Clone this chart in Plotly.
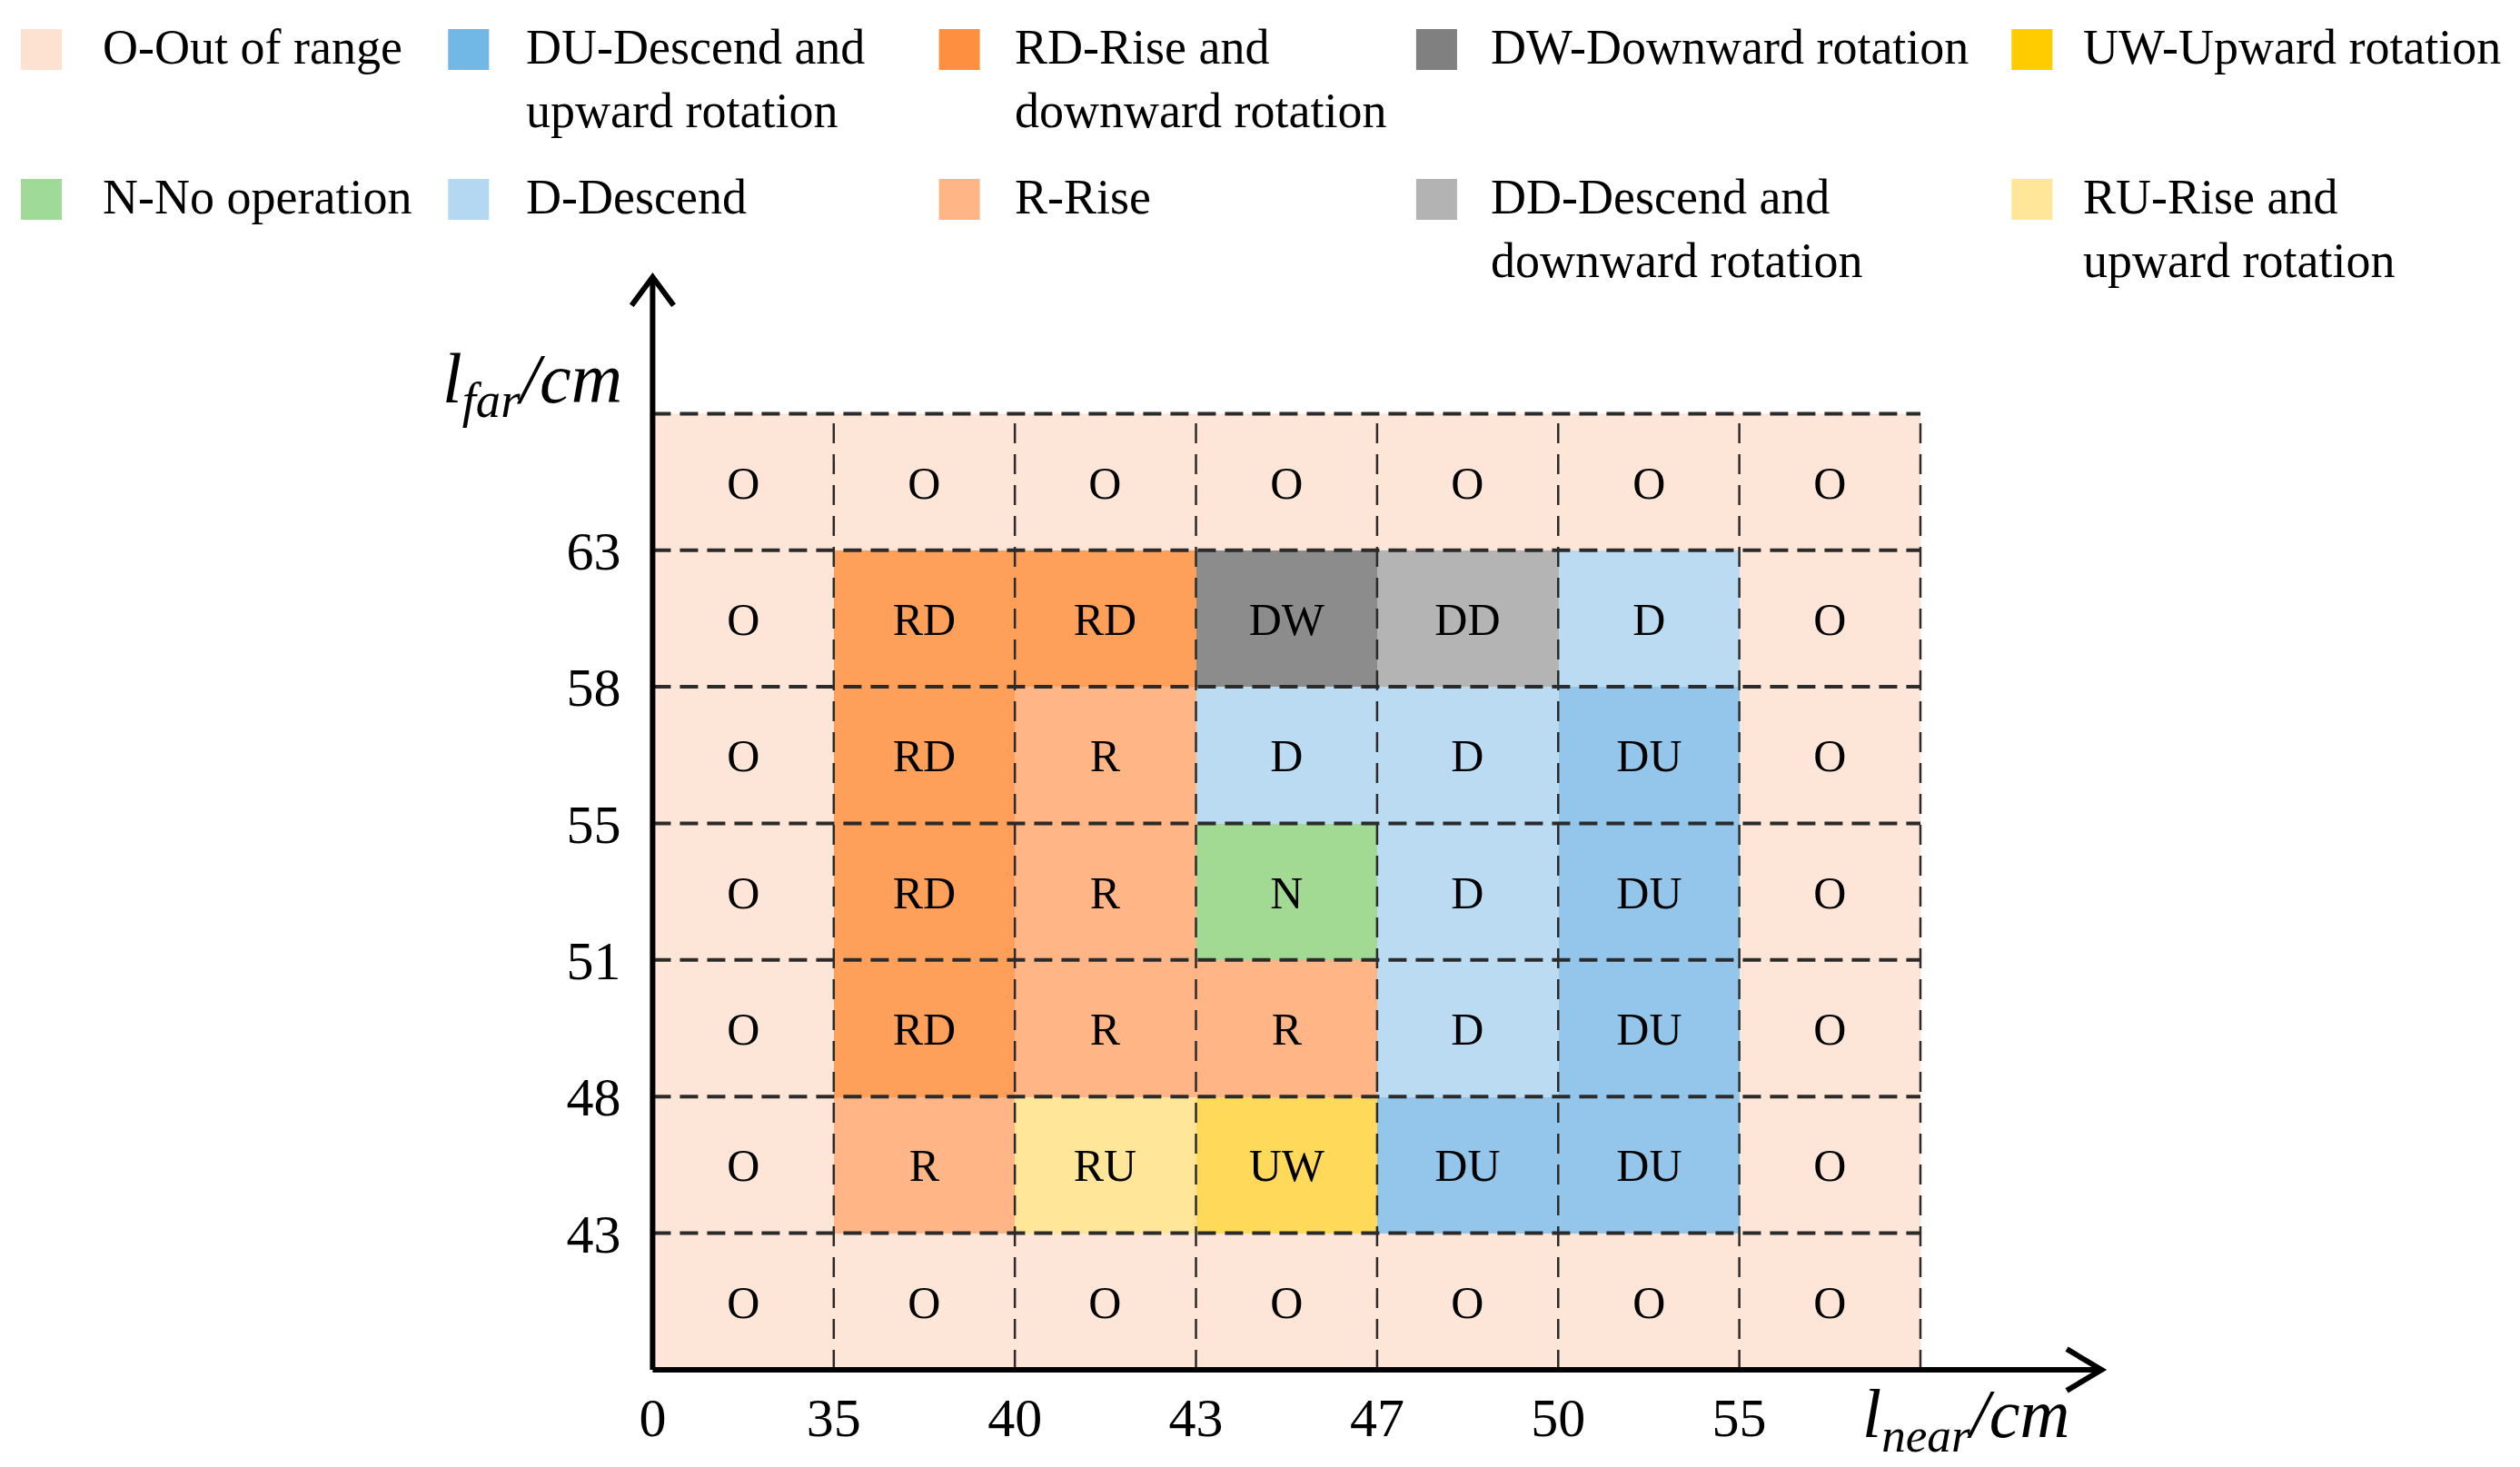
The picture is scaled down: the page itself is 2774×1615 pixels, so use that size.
import plotly.graph_objects as go

# ---------------- data ----------------
categories = ["O", "DU", "RD", "DW", "UW", "N", "D", "R", "DD", "RU"]
legend_labels = [
    "O-Out of range",
    "DU-Descend and<br>upward rotation",
    "RD-Rise and<br>downward rotation",
    "DW-Downward rotation",
    "UW-Upward rotation",
    "N-No operation",
    "D-Descend",
    "R-Rise",
    "DD-Descend and<br>downward rotation",
    "RU-Rise and<br>upward rotation",
]
legend_colors = ["#FDE2D2", "#72B8E6", "#FF8F40", "#808080", "#FFCC00",
                 "#A0DA98", "#B4D8F1", "#FFB585", "#B3B3B3", "#FFE699"]
cell_colors = ["#FDE5D8", "#93C6EA", "#FFA05A", "#8C8C8C", "#FFD95A",
               "#A2D993", "#BADBF2", "#FFB585", "#B4B4B4", "#FFE699"]

x_ticks = ["0", "35", "40", "43", "47", "50", "55"]
y_ticks = ["43", "48", "51", "55", "58", "63"]

# grid rows, listed from top to bottom
grid_top_to_bottom = [
    ["O", "O", "O", "O", "O", "O", "O"],
    ["O", "RD", "RD", "DW", "DD", "D", "O"],
    ["O", "RD", "R", "D", "D", "DU", "O"],
    ["O", "RD", "R", "N", "D", "DU", "O"],
    ["O", "RD", "R", "R", "D", "DU", "O"],
    ["O", "R", "RU", "UW", "DU", "DU", "O"],
    ["O", "O", "O", "O", "O", "O", "O"],
]

# ---------------- figure ----------------
W, H = 2774, 1615
FONT = "Liberation Serif"


def px(t):
    """horizontal pixel position -> paper fraction"""
    return max((t - 20.0) / 0.994, 0) / W


def py(t):
    """vertical pixel position (from top) -> paper fraction"""
    return 1 - (t - 4) / H


ncol = len(grid_top_to_bottom[0])
nrow = len(grid_top_to_bottom)
grid = grid_top_to_bottom[::-1]
z = [[categories.index(c) for c in row] for row in grid]
n = len(categories)
colorscale = []
for i, c in enumerate(cell_colors):
    colorscale.append([i / n, c])
    colorscale.append([(i + 1) / n, c])

XMAX, YMAX = 8, 8

fig = go.Figure()
fig.add_trace(go.Heatmap(
    x=[i + 0.5 for i in range(ncol)],
    y=[j + 0.5 for j in range(nrow)],
    z=z, text=grid, texttemplate="%{text}",
    textfont=dict(family=FONT, size=50, color="black"),
    colorscale=colorscale, zmin=-0.5, zmax=n - 0.5,
    showscale=False, hoverinfo="skip",
))

shapes = []
# dashed grid lines
for j in range(1, nrow + 1):
    shapes.append(dict(type="line", x0=0, x1=ncol, y0=j, y1=j, xref="x", yref="y",
                       line=dict(color="#2b2b2b", width=4, dash="20px,10px")))
for i in range(1, ncol + 1):
    shapes.append(dict(type="line", x0=i, x1=i, y0=0, y1=nrow, xref="x", yref="y",
                       line=dict(color="#2b2b2b", width=2.5, dash="22px,12px")))
# axes with open arrow heads (domain refs -> not clipped)
axis_line = dict(color="black", width=6)
shapes.append(dict(type="line", x0=0, x1=1, y0=0, y1=0,
                   xref="x domain", yref="y domain", line=axis_line))
shapes.append(dict(type="line", x0=0, x1=0, y0=0, y1=1,
                   xref="x domain", yref="y domain", line=axis_line))
shapes.append(dict(type="path", path="M 0.976,0.019 L 1,0 L 0.976,-0.019",
                   xref="x domain", yref="y domain", line=axis_line))
shapes.append(dict(type="path", path="M -0.0145,0.974 L 0,1 L 0.0145,0.974",
                   xref="x domain", yref="y domain", line=axis_line))

annotations = []
# legend
sw_x = [20, 490, 1030, 1555, 2210]
tx_x = [108, 574, 1111, 1635, 2287]
row_c = [51, 216]
for k, (lab, col) in enumerate(zip(legend_labels, legend_colors)):
    r, c = divmod(k, 5)
    yc = row_c[r]
    shapes.append(dict(type="rect", xref="paper", yref="paper",
                       x0=px(sw_x[c]), x1=px(sw_x[c] + 45),
                       y0=py(yc + 22), y1=py(yc - 23),
                       fillcolor=col, line=dict(width=0)))
    annotations.append(dict(text=lab, xref="paper", yref="paper",
                            x=px(tx_x[c]), y=py(yc - 35),
                            xanchor="left", yanchor="top", align="left",
                            showarrow=False,
                            font=dict(family=FONT, size=54, color="black")))

# axis titles
annotations.append(dict(text="<i>l</i><sub><i>far</i></sub><i>/cm</i>",
                        xref="paper", yref="paper", x=px(684), y=py(418),
                        xanchor="right", yanchor="middle", showarrow=False,
                        font=dict(family=FONT, size=78, color="black")))
annotations.append(dict(text="<i>l</i><sub><i>near</i></sub><i>/cm</i>",
                        xref="paper", yref="paper", x=px(2044), y=py(1558),
                        xanchor="left", yanchor="middle", showarrow=False,
                        font=dict(family=FONT, size=76, color="black")))

fig.update_layout(
    width=W, height=H, margin=dict(l=0, r=0, t=0, b=0),
    paper_bgcolor="white", plot_bgcolor="white",
    shapes=shapes, annotations=annotations, showlegend=False,
    xaxis=dict(range=[0, XMAX], domain=[px(715), px(2309)], showgrid=False,
               zeroline=False, showline=False, tickvals=list(range(len(x_ticks))),
               ticktext=x_ticks, ticks="", ticklabelstandoff=12,
               tickfont=dict(family=FONT, size=60, color="black")),
    yaxis=dict(range=[0, YMAX], domain=[py(1504), py(301)], showgrid=False,
               zeroline=False, showline=False,
               tickvals=list(range(1, len(y_ticks) + 1)), ticktext=y_ticks,
               ticks="", ticklabelstandoff=34,
               tickfont=dict(family=FONT, size=60, color="black")),
)

fig.write_html("out.html")
